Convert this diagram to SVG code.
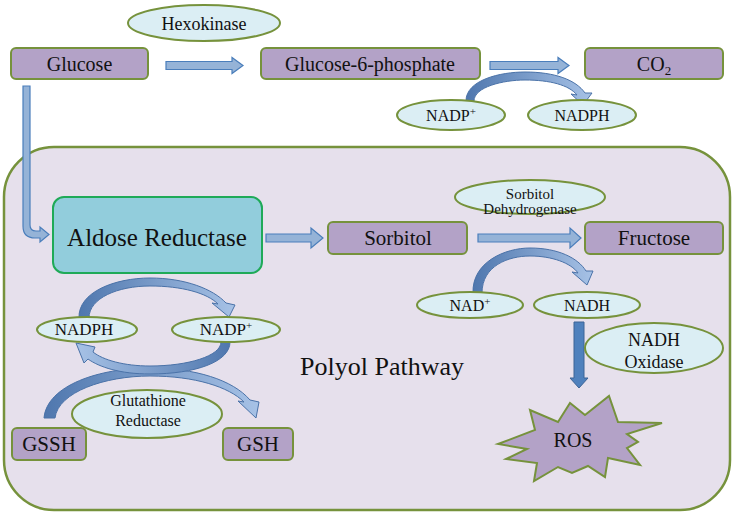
<svg xmlns="http://www.w3.org/2000/svg" width="734" height="515" viewBox="0 0 734 515">
<defs>
<style>
text{font-family:"Liberation Serif",Tinos,"Times New Roman","DejaVu Serif",serif;fill:#111;text-anchor:middle}
.box{fill:#B3A2C7;stroke:#76923C;stroke-width:2}
.ell{fill:#DBEEF4;stroke:#76923C;stroke-width:2}
.sarr{fill:#95B3D7;stroke:#4A7EBB;stroke-width:1.2}
.carr{fill:url(#gR);stroke:#4A72A8;stroke-width:1}
.carrL{fill:url(#gL);stroke:#4A72A8;stroke-width:1}
</style>
<linearGradient id="gR" x1="0" y1="0" x2="1" y2="0">
<stop offset="0" stop-color="#4F77AE"/><stop offset="1" stop-color="#A7C2E6"/>
</linearGradient>
<linearGradient id="gL" x1="1" y1="0" x2="0" y2="0">
<stop offset="0" stop-color="#4F77AE"/><stop offset="1" stop-color="#A7C2E6"/>
</linearGradient>
</defs>
<rect width="734" height="515" fill="#fff"/>
<g font-family="Liberation Serif, Tinos, Times New Roman, DejaVu Serif, serif">
<g id="polyol-bg">
<rect x="4" y="147" width="726" height="363" rx="50" fill="#E6E0EC" stroke="#76923C" stroke-width="2.5"/>
<text x="382" y="375" font-size="26">Polyol Pathway</text>
</g>
<g id="connectors">
<path class="sarr" d="M166,61.5 H232 V57.5 L243,65.5 L232,73.5 V69.5 H166 Z"/>
<path class="sarr" d="M490,61.5 H558 V57.5 L569,65.5 L558,73.5 V69.5 H490 Z"/>
<path class="sarr" d="M23,86 H30 V225 Q30,231 36,231 H40 V227 L49,234.5 L40,242 V238 H35 Q23,238 23,226 Z"/>
<path class="sarr" d="M266,234 H311 V228 L323,238 L311,248 V242 H266 Z"/>
<path class="sarr" d="M478,234 H570 V228 L581,238 L570,248 V242 H478 Z"/>
<path class="carr" d="M466,101 C466,80 500,72 525,72 C555,72 576,80 585,93 L592,93 L583,105 L571,94 L577,95 C569,85 550,80 525,80 C503,80 474,87 474,101 Z"/>
<path class="carr" d="M473,293 C472,262 505,248 530,248 C558,248 578,258 586,271 L593,271 L587,285 L572,272 L578,273 C571,263 552,256 530,256 C508,256 482,266 482,293 Z"/>
<path class="carr" d="M79,318 C78,292 115,278 150,278 C185,278 213,289 226,303 L235,305 L229,317 L212,303 L218,304 C207,293 182,286 150,286 C118,286 89,298 89,318 Z"/>
<path class="carr" d="M44,418 C47,385 100,368 150,368 C195,368 233,380 250,400 L259,402 L256,418 L238,401 L244,402 C229,387 195,376 150,376 C105,376 58,392 55,418 Z"/>
<path class="carrL" d="M230,342 C230,362 195,374 150,374 C120,374 99,367 88,359 L84,363 L76,343 L95,347 L93,352 C103,360 124,366 150,366 C188,366 221,356 221,342 Z"/>
<path d="M574,322 H584 V378 H588 L579,388 L570,378 H574 Z" fill="#4F81BD" stroke="#3C6496" stroke-width="1"/>
</g>
<g id="hexokinase"><ellipse class="ell" cx="204" cy="23" rx="76" ry="18"/><text x="204" y="30" font-size="18">Hexokinase</text></g>
<g id="glucose"><rect class="box" x="11" y="48" width="137" height="31" rx="5"/><text x="79.5" y="70.5" font-size="20">Glucose</text></g>
<g id="g6p"><rect class="box" x="261" y="48" width="219" height="31" rx="5"/><text x="370" y="70.5" font-size="20">Glucose-6-phosphate</text></g>
<g id="co2"><rect class="box" x="585" y="48" width="138" height="31" rx="5"/><text x="654" y="70.5" font-size="20">CO<tspan dy="4" font-size="13">2</tspan></text></g>
<g id="nadp-top"><ellipse class="ell" cx="451" cy="115" rx="54" ry="15"/><text x="451" y="121" font-size="16">NADP<tspan dy="-6" font-size="11">+</tspan></text></g>
<g id="nadph-top"><ellipse class="ell" cx="582" cy="115" rx="54" ry="15"/><text x="582" y="121" font-size="16">NADPH</text></g>
<g id="aldose-reductase"><rect x="53" y="197" width="209" height="76" rx="11" fill="#92CDDC" stroke="#1FAA58" stroke-width="2"/><text x="157" y="246" font-size="25">Aldose Reductase</text></g>
<g id="sorbitol"><rect class="box" x="328" y="222" width="139" height="32" rx="5"/><text x="398" y="245" font-size="21">Sorbitol</text></g>
<g id="sorbitol-dehydrogenase"><ellipse class="ell" cx="530" cy="197" rx="75" ry="17"/><text x="530" y="199" font-size="15">Sorbitol</text><text x="530" y="214" font-size="15">Dehydrogenase</text></g>
<g id="fructose"><rect class="box" x="585" y="222" width="138" height="32" rx="5"/><text x="654" y="245" font-size="21">Fructose</text></g>
<g id="nad"><ellipse class="ell" cx="470" cy="305" rx="53" ry="13"/><text x="470" y="311" font-size="16">NAD<tspan dy="-6" font-size="11">+</tspan></text></g>
<g id="nadh"><ellipse class="ell" cx="587" cy="305" rx="53" ry="13"/><text x="587" y="311" font-size="16">NADH</text></g>
<g id="nadh-oxidase"><ellipse class="ell" cx="654" cy="348" rx="69" ry="25"/><text x="654" y="346" font-size="18">NADH</text><text x="654" y="368" font-size="18">Oxidase</text></g>
<g id="ros"><polygon points="498,444 535,430 530,410 558,422 570,403 585,415 609,396 618,422 662,423 627,434 638,442 627,448 640,465 608,458 605,477 588,466 572,473 558,467 534,481 537,463 506,459 527,449" fill="#B3A2C7" stroke="#76923C" stroke-width="2"/><text x="573" y="447" font-size="20">ROS</text></g>
<g id="nadph-bottom"><ellipse class="ell" cx="87" cy="329.5" rx="50" ry="12.5"/><text x="84" y="335" font-size="17">NADPH</text></g>
<g id="nadp-bottom"><ellipse class="ell" cx="226" cy="329.5" rx="54" ry="12.5"/><text x="226" y="335" font-size="17">NADP<tspan dy="-6" font-size="11">+</tspan></text></g>
<g id="glutathione-reductase"><ellipse class="ell" cx="147" cy="414" rx="75" ry="24"/><text x="148" y="406" font-size="16">Glutathione</text><text x="148" y="426" font-size="16">Reductase</text></g>
<g id="gssh"><rect class="box" x="12" y="428" width="74" height="32" rx="5"/><text x="49" y="451" font-size="21">GSSH</text></g>
<g id="gsh"><rect class="box" x="223" y="428" width="70" height="32" rx="5"/><text x="258" y="451" font-size="21">GSH</text></g>
</g>
</svg>
